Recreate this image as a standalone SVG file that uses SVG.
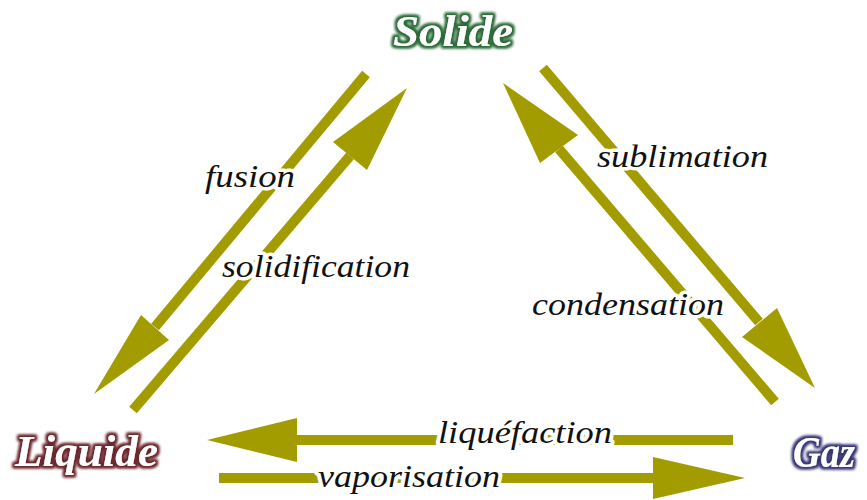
<svg xmlns="http://www.w3.org/2000/svg" width="867" height="500" viewBox="0 0 867 500">
<style>
.shaft{stroke:#a29c00;stroke-width:10;fill:none;stroke-linecap:butt}
.head{fill:#a29c00;stroke:none}
.lbl{font-family:"Liberation Serif","Times New Roman",serif;font-style:italic;font-size:31px;fill:#111111;stroke:#ffffff;stroke-width:7;stroke-linejoin:round;paint-order:stroke}
.node{font-family:"Liberation Serif","Times New Roman",serif;font-style:italic;font-weight:bold;font-size:45px;fill:#ffffff}
</style>
<defs>
<filter id="glowS" x="-20%" y="-50%" width="140%" height="200%">
<feMorphology in="SourceAlpha" operator="dilate" radius="2.2" result="d"/>
<feGaussianBlur in="d" stdDeviation="1.5" result="b"/>
<feFlood flood-color="#2c6c38"/>
<feComposite in2="b" operator="in" result="g"/>
<feMerge><feMergeNode in="g"/><feMergeNode in="g"/><feMergeNode in="SourceGraphic"/></feMerge>
</filter>
<filter id="glowL" x="-20%" y="-50%" width="140%" height="200%">
<feMorphology in="SourceAlpha" operator="dilate" radius="2.2" result="d"/>
<feGaussianBlur in="d" stdDeviation="1.5" result="b"/>
<feFlood flood-color="#6c282e"/>
<feComposite in2="b" operator="in" result="g"/>
<feMerge><feMergeNode in="g"/><feMergeNode in="g"/><feMergeNode in="SourceGraphic"/></feMerge>
</filter>
<filter id="glowG" x="-20%" y="-50%" width="140%" height="200%">
<feMorphology in="SourceAlpha" operator="dilate" radius="2.2" result="d"/>
<feGaussianBlur in="d" stdDeviation="1.5" result="b"/>
<feFlood flood-color="#3a3776"/>
<feComposite in2="b" operator="in" result="g"/>
<feMerge><feMergeNode in="g"/><feMergeNode in="g"/><feMergeNode in="SourceGraphic"/></feMerge>
</filter>
</defs>
<rect width="867" height="500" fill="#ffffff"/>
<g id="connectors">
<g id="fusion">
<line class="shaft" x1="366" y1="74" x2="155" y2="327"/>
<polygon class="head" points="94,394 141,315 169,340"/>
<text class="lbl" x="205" y="187" textLength="90" lengthAdjust="spacingAndGlyphs">fusion</text>
</g>
<g id="solidification">
<line class="shaft" x1="133" y1="410" x2="350" y2="156"/>
<polygon class="head" points="407,88 333,142 367,170"/>
<text class="lbl" x="222" y="277" textLength="188" lengthAdjust="spacingAndGlyphs">solidification</text>
</g>
<g id="sublimation">
<line class="shaft" x1="543" y1="68" x2="759" y2="322"/>
<polygon class="head" points="815,388 742,337 777,308"/>
<text class="lbl" x="597" y="167" textLength="171" lengthAdjust="spacingAndGlyphs">sublimation</text>
</g>
<g id="condensation">
<line class="shaft" x1="775" y1="402" x2="559" y2="149"/>
<polygon class="head" points="503,83 540,163 578,135"/>
<text class="lbl" x="532" y="315" textLength="192" lengthAdjust="spacingAndGlyphs">condensation</text>
</g>
<g id="liquefaction">
<line class="shaft" x1="733" y1="440" x2="296" y2="440"/>
<polygon class="head" points="207,440 297,418 297,462"/>
<text class="lbl" x="438" y="443" textLength="174" lengthAdjust="spacingAndGlyphs">liquéfaction</text>
</g>
<g id="vaporisation">
<line class="shaft" x1="219" y1="478" x2="654" y2="478"/>
<polygon class="head" points="745,478 653,457 653,499"/>
<text class="lbl" x="318" y="487" textLength="182" lengthAdjust="spacingAndGlyphs">vaporisation</text>
</g>
</g>
<g id="node-solide">
<text class="node" x="393" y="46" textLength="120" lengthAdjust="spacingAndGlyphs" filter="url(#glowS)">Solide</text>
</g>
<g id="node-liquide">
<text class="node" x="15" y="466" textLength="143" lengthAdjust="spacingAndGlyphs" filter="url(#glowL)">Liquide</text>
</g>
<g id="node-gaz">
<text class="node" x="793" y="467" textLength="62" lengthAdjust="spacingAndGlyphs" filter="url(#glowG)">Gaz</text>
</g>
</svg>
